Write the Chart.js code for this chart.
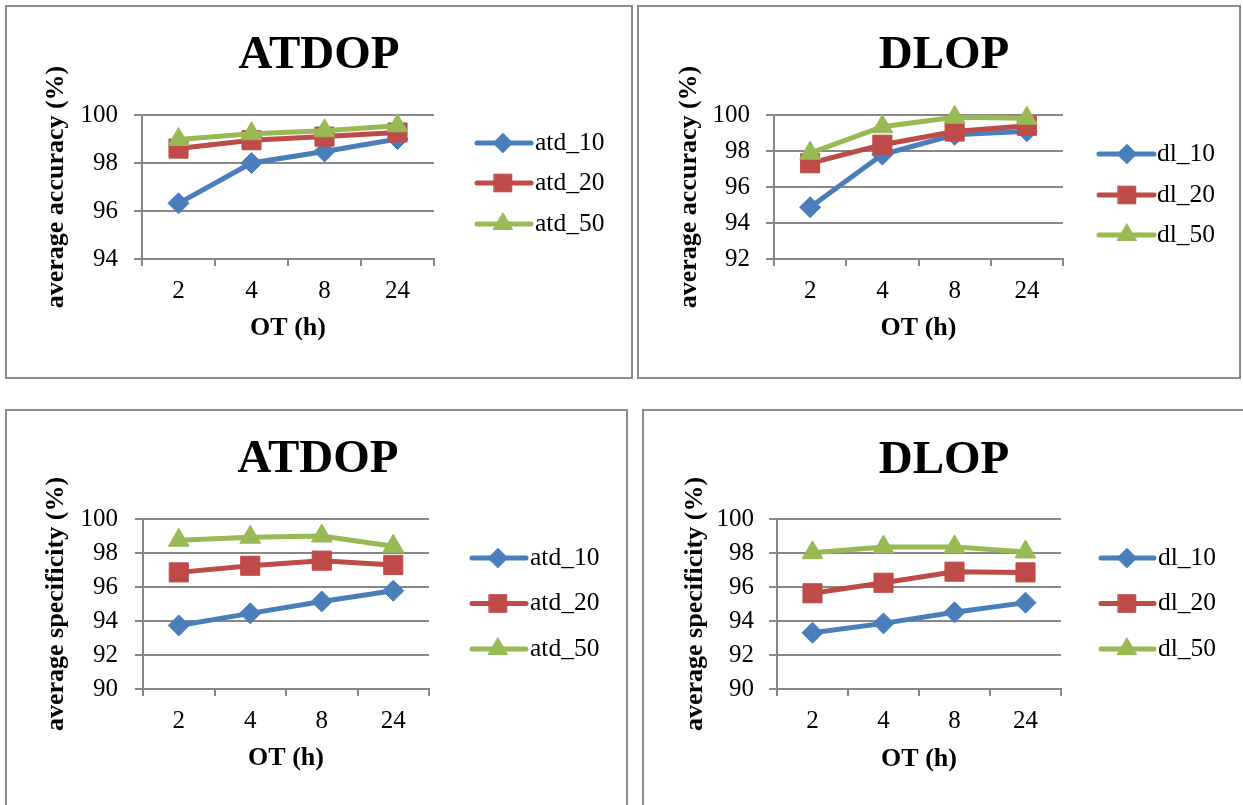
<!DOCTYPE html>
<html>
<head>
<meta charset="utf-8">
<script src="https://cdn.jsdelivr.net/npm/chart.js@4.4.1/dist/chart.umd.min.js"></script>
<style>
html,body{margin:0;padding:0;background:#fff;width:1243px;height:805px;overflow:hidden;position:relative}
canvas{position:absolute}
.box{position:absolute;border:2px solid #8b8b8b;box-sizing:border-box}
</style>
</head>
<body>
<div class="box" style="left:5px;top:5px;width:628px;height:374px"></div>
<div class="box" style="left:637px;top:5px;width:604px;height:374px"></div>
<div class="box" style="left:5px;top:409px;width:623px;height:420px"></div>
<div class="box" style="left:642px;top:409px;width:640px;height:420px"></div>
<canvas id="c1"></canvas>
<canvas id="c2"></canvas>
<canvas id="c3"></canvas>
<canvas id="c4"></canvas>
<script>
// ---------- data ----------
const otLabels = ['2', '4', '8', '24'];
const atdNames = ['atd_10', 'atd_20', 'atd_50'];
const dlNames = ['dl_10', 'dl_20', 'dl_50'];
const panelTitles = ['ATDOP', 'DLOP', 'ATDOP', 'DLOP'];
const yTitles = ['average accuracy (%)', 'average accuracy (%)', 'average specificity (%)', 'average specificity (%)'];
const xTitle = 'OT (h)';

const atdAcc10 = [96.32, 98.0, 98.48, 99.0];
const atdAcc20 = [98.6, 98.95, 99.1, 99.27];
const atdAcc50 = [98.98, 99.22, 99.34, 99.55];

const dlAcc10 = [94.88, 97.8, 98.9, 99.1];
const dlAcc20 = [97.32, 98.35, 99.08, 99.4];
const dlAcc50 = [97.88, 99.35, 99.87, 99.82];

const atdSpec10 = [93.74, 94.45, 95.15, 95.78];
const atdSpec20 = [96.86, 97.25, 97.55, 97.3];
const atdSpec50 = [98.75, 98.93, 99.0, 98.4];

const dlSpec10 = [93.31, 93.86, 94.51, 95.08];
const dlSpec20 = [95.63, 96.25, 96.9, 96.86];
const dlSpec50 = [98.02, 98.35, 98.36, 98.06];

const yRanges = [[94, 100], [92, 100], [90, 100], [90, 100]];
const yStep = 2;

// ---------- styles ----------
const FONT = "'Liberation Serif', 'Times New Roman', serif";
Chart.defaults.font.family = FONT;
Chart.defaults.color = '#000';
const GRID = '#878787';
const seriesStyle = [
  {color: '#4A7EBB', pointStyle: 'rectRot', radius: 10.5},
  {color: '#BE4B48', pointStyle: 'rect', radius: 13.5},
  {color: '#98B954', pointStyle: 'triangle', radius: 12}
];
const SZ = {title: 47, axisTitle: 26, tick: 25, legend: 25.5, lh: 1.2, yTickLen: 8, xTickLen: 7};

// panel layout in page coordinates
const layouts = [
  {cv:{x:6,y:6,w:626,h:372}, area:{L:142,R:434,T:115,B:259}, tc:{x:319,y:56}, yTitleX:56, yLabelRight:118, xLabelY:291, xTitleY:328,
   leg:{x1:477,x2:531,xm:503,xt:535,ys:[143,183,224]}},
  {cv:{x:638,y:6,w:602,h:372}, area:{L:774,R:1063,T:115,B:259}, tc:{x:944,y:56}, yTitleX:689, yLabelRight:750, xLabelY:291, xTitleY:328,
   leg:{x1:1099,x2:1154,xm:1127,xt:1157,ys:[154,195,235]}},
  {cv:{x:6,y:410,w:621,h:395}, area:{L:143,R:429,T:519,B:689}, tc:{x:318,y:460}, yTitleX:56, yLabelRight:118, xLabelY:721, xTitleY:758,
   leg:{x1:472,x2:526,xm:498,xt:530,ys:[558,603.5,649]}},
  {cv:{x:643,y:410,w:600,h:395}, area:{L:777,R:1061,T:519,B:689}, tc:{x:944,y:460.5}, yTitleX:695, yLabelRight:754, xLabelY:721, xTitleY:759,
   leg:{x1:1101,x2:1154,xm:1127,xt:1158,ys:[558,603.5,649]}}
];

const panelSeries = [
  [atdAcc10, atdAcc20, atdAcc50],
  [dlAcc10, dlAcc20, dlAcc50],
  [atdSpec10, atdSpec20, atdSpec50],
  [dlSpec10, dlSpec20, dlSpec50]
];
const panelNames = [atdNames, dlNames, atdNames, dlNames];

// ---------- custom legend (line + marker + text) ----------
const lineLegend = {
  id: 'lineLegend',
  afterDraw(chart, args, opts) {
    const ctx = chart.ctx;
    chart.data.datasets.forEach((ds, i) => {
      const y = opts.ys[i];
      ctx.save();
      ctx.strokeStyle = ds.borderColor;
      ctx.lineWidth = 5;
      ctx.lineCap = 'round';
      ctx.beginPath();
      ctx.moveTo(opts.x1, y);
      ctx.lineTo(opts.x2, y);
      ctx.stroke();
      ctx.fillStyle = ds.pointBackgroundColor;
      ctx.strokeStyle = ds.pointBorderColor;
      ctx.lineWidth = 1;
      Chart.helpers.drawPoint(ctx, {pointStyle: ds.pointStyle, rotation: 0, radius: ds.pointRadius * 0.92, borderWidth: 1}, opts.xm, y);
      ctx.fillStyle = '#000';
      ctx.font = SZ.legend + 'px ' + FONT;
      ctx.textAlign = 'left';
      ctx.textBaseline = 'middle';
      ctx.fillText(ds.label, opts.xt, y);
      ctx.restore();
    });
  }
};

function build(idx) {
  const L = layouts[idx];
  const cv = document.getElementById('c' + (idx + 1));
  cv.width = L.cv.w; cv.height = L.cv.h;
  cv.style.left = L.cv.x + 'px'; cv.style.top = L.cv.y + 'px';
  cv.style.width = L.cv.w + 'px'; cv.style.height = L.cv.h + 'px';

  const cx = L.cv.x, cy = L.cv.y, cw = L.cv.w, ch = L.cv.h;
  const lhT = SZ.title * SZ.lh, lhA = SZ.axisTitle * SZ.lh, lhTick = SZ.tick * SZ.lh;
  const d = 2 * (L.tc.x - cx) - cw;
  const pl = d > 0 ? d : 0, pr = d > 0 ? 0 : -d;
  const yAxisW = L.area.L - (cx + pl);
  const yTitlePad = L.yTitleX - (cx + pl) - lhA / 2;
  const rightW = (cx + cw - pr) - L.area.R;
  const tPadTop = L.tc.y - cy - lhT / 2;
  const tPadBottom = L.area.T - cy - tPadTop - lhT;
  const xAxisH = L.xTitleY + lhA / 2 - L.area.B;
  const padBottom = cy + ch - L.area.B - xAxisH;
  const yTickPad = L.area.L - SZ.yTickLen - L.yLabelRight;
  const xTickPad = L.xLabelY - L.area.B - SZ.xTickLen - lhTick / 2;

  const leg = {
    x1: L.leg.x1 - cx, x2: L.leg.x2 - cx, xm: L.leg.xm - cx, xt: L.leg.xt - cx,
    ys: L.leg.ys.map(v => v - cy)
  };

  const datasets = panelSeries[idx].map((vals, i) => ({
    label: panelNames[idx][i],
    data: vals,
    borderColor: seriesStyle[i].color,
    backgroundColor: seriesStyle[i].color,
    pointBackgroundColor: seriesStyle[i].color,
    pointBorderColor: seriesStyle[i].color,
    pointBorderWidth: 1,
    pointStyle: seriesStyle[i].pointStyle,
    pointRadius: seriesStyle[i].radius,
    borderWidth: 5,
    tension: 0,
    clip: false,
    order: 3 - i
  }));

  new Chart(cv, {
    type: 'line',
    data: {labels: otLabels, datasets},
    options: {
      responsive: false,
      animation: false,
      devicePixelRatio: 1,
      events: [],
      layout: {padding: {left: pl, right: pr, top: 0, bottom: padBottom}},
      plugins: {
        legend: {display: false},
        tooltip: {enabled: false},
        title: {
          display: true, text: panelTitles[idx],
          font: {size: SZ.title, weight: 'bold', family: FONT, lineHeight: SZ.lh},
          color: '#000',
          padding: {top: tPadTop, bottom: tPadBottom}
        },
        lineLegend: leg
      },
      scales: {
        x: {
          type: 'category',
          offset: true,
          grid: {display: true, drawOnChartArea: false, drawTicks: true, tickLength: SZ.xTickLen, color: GRID, lineWidth: 2, offset: true},
          border: {display: true, color: GRID, width: 2},
          ticks: {font: {size: SZ.tick, family: FONT, lineHeight: SZ.lh}, color: '#000', padding: xTickPad, maxRotation: 0, autoSkip: false},
          title: {display: true, text: xTitle, font: {size: SZ.axisTitle, weight: 'bold', family: FONT, lineHeight: SZ.lh}, color: '#000', padding: {top: 0, bottom: 0}},
          afterFit(s) { s.height = xAxisH; }
        },
        y: {
          type: 'linear',
          position: 'left',
          min: yRanges[idx][0], max: yRanges[idx][1],
          grid: {color: GRID, lineWidth: 2, drawTicks: true, tickLength: SZ.yTickLen},
          border: {display: true, color: GRID, width: 2},
          ticks: {stepSize: yStep, font: {size: SZ.tick, family: FONT, lineHeight: SZ.lh}, color: '#000', padding: yTickPad},
          title: {display: true, text: yTitles[idx], font: {size: SZ.axisTitle, weight: 'bold', family: FONT, lineHeight: SZ.lh}, color: '#000', padding: {top: yTitlePad, bottom: 0}},
          afterFit(s) { s.width = yAxisW; }
        },
        yR: {
          type: 'linear',
          position: 'right',
          display: true,
          grid: {display: false, drawTicks: false},
          border: {display: false},
          ticks: {display: false},
          afterFit(s) { s.width = rightW; }
        }
      }
    },
    plugins: [lineLegend]
  });
}

[0, 1, 2, 3].forEach(build);
</script>
</body>
</html>
